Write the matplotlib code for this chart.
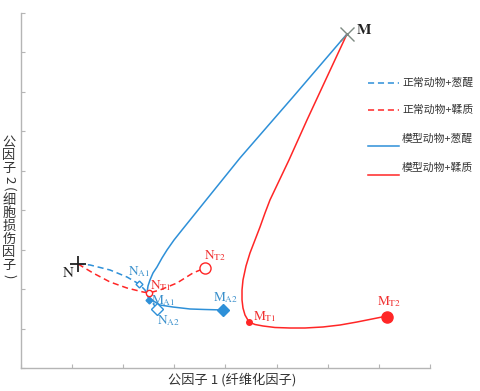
import matplotlib
matplotlib.use("Agg")
from matplotlib import pyplot as plt
from matplotlib.lines import Line2D

plt.rcParams["font.family"] = ["Noto Sans CJK SC", "DejaVu Sans"]
plt.rcParams["mathtext.fontset"] = "stix"

# ---- data (factor scores) ----
n_pt = (1.115, 2.637)
m_pt = (6.377, 8.469)

# normal animals + 葱醒
na_x = [1.115, 1.350, 1.741, 2.073, 2.308, 2.425, 2.504, 2.660]
na_y = [2.637, 2.612, 2.485, 2.307, 2.130, 1.978, 1.775, 1.496]
# normal animals + 鞣质
nt_x = [1.115, 1.408, 1.741, 2.073, 2.386, 2.504, 2.719, 3.051, 3.364, 3.599]
nt_y = [2.637, 2.409, 2.181, 2.028, 1.927, 1.902, 1.978, 2.155, 2.409, 2.535]
# model animals + 葱醒
ma_x = [6.377, 5.320, 4.284, 3.716, 3.149, 2.993, 2.856, 2.758, 2.660, 2.582, 2.523,
        2.484, 2.465, 2.484, 2.523, 2.621, 2.719, 2.973, 3.306, 3.599, 3.951]
ma_y = [8.469, 6.871, 5.325, 4.412, 3.499, 3.245, 2.992, 2.789, 2.561, 2.409, 2.231,
        2.079, 1.902, 1.800, 1.750, 1.674, 1.597, 1.546, 1.496, 1.483, 1.471]
# model animals + 鞣质
mt_x = [6.377, 5.985, 5.594, 5.242, 4.870, 4.773, 4.675, 4.577, 4.479, 4.401, 4.342,
        4.323, 4.323, 4.342, 4.381, 4.460, 4.577, 4.734, 4.968, 5.262, 5.555, 5.907,
        6.240, 6.572, 6.866, 7.159]
mt_y = [8.469, 7.378, 6.288, 5.274, 4.260, 3.930, 3.575, 3.245, 2.916, 2.586, 2.231,
        1.978, 1.724, 1.521, 1.344, 1.166, 1.103, 1.065, 1.027, 1.014, 1.014, 1.040,
        1.090, 1.166, 1.242, 1.318]

na1 = (2.308, 2.130)
na2 = (2.660, 1.496)
nt1 = (2.504, 1.902)
nt2 = (3.599, 2.535)
ma1 = (2.504, 1.724)
ma2 = (3.951, 1.471)
mt1 = (4.460, 1.166)
mt2 = (7.159, 1.293)

legend_labels = ["正常动物+葱醒", "正常动物+鞣质", "模型动物+葱醒", "模型动物+鞣质"]
xlabel = "公因子 1 (纤维化因子)"
ylabel_chars = list("公因子2(细胞损伤因子)")

BLUE = "#2E90D8"
RED = "#FF2626"
LBLUE = "#3A90CC"
LRED = "#F03030"

fig = plt.figure(figsize=(4.81, 3.91), dpi=100)
ax = fig.add_axes([21 / 481, 23 / 391, 409 / 481, 355 / 391])
ax.set_xlim(0, 8)
ax.set_ylim(0, 9)
ax.set_xticks(range(0, 9))
ax.set_yticks(range(0, 10))
ax.set_xticklabels([])
ax.set_yticklabels([])
for s in ["top", "right"]:
    ax.spines[s].set_visible(False)
for s in ["left", "bottom"]:
    ax.spines[s].set_color("#b5b5b5")
    ax.spines[s].set_linewidth(1.0)
ax.tick_params(direction="in", length=3, color="#b5b5b5", width=0.8)

dash = (0, (4, 2.5))
ax.plot(na_x, na_y, color=BLUE, lw=1.1, linestyle=dash)
ax.plot(nt_x, nt_y, color=RED, lw=1.1, linestyle=dash)
ax.plot(ma_x, ma_y, color=BLUE, lw=1.1, solid_joinstyle="round")
ax.plot(mt_x, mt_y, color=RED, lw=1.1, solid_joinstyle="round")

# markers
ax.plot(*n_pt, marker="+", ms=12, mew=1.3, color="#222222")
ax.plot(*m_pt, marker="x", ms=10, mew=1.0, color="#7d8a82")
ax.plot(*na1, marker="D", ms=3.5, mfc="white", mec=BLUE, mew=1.0)
ax.plot(*na2, marker="D", ms=6, mfc="white", mec=BLUE, mew=1.0)
ax.plot(*ma1, marker="D", ms=3.5, color=BLUE)
ax.plot(*ma2, marker="D", ms=6, color=BLUE)
ax.plot(*nt1, marker="o", ms=4.5, mfc="white", mec=RED, mew=1.0)
ax.plot(*nt2, marker="o", ms=8, mfc="white", mec=RED, mew=1.0)
ax.plot(*mt1, marker="o", ms=4, color=RED)
ax.plot(*mt2, marker="o", ms=8, color=RED)

lab_kw = dict(textcoords="offset pixels", ha="center", va="center", fontsize=9.5)
ax.annotate(r"$\mathrm{N}$", n_pt, xytext=(-10, -9), color="#222222", fontsize=11,
            textcoords="offset pixels", ha="center", va="center")
ax.annotate(r"$\mathbf{M}$", m_pt, xytext=(17, 4), color="#222222", fontsize=11,
            textcoords="offset pixels", ha="center", va="center")
ax.annotate(r"$\mathrm{N_{A1}}$", na1, xytext=(0, 12), color=LBLUE, **lab_kw)
ax.annotate(r"$\mathrm{N_{A2}}$", na2, xytext=(11, -12), color=LBLUE, **lab_kw)
ax.annotate(r"$\mathrm{M_{A1}}$", ma1, xytext=(14, -1), color=LBLUE, **lab_kw)
ax.annotate(r"$\mathrm{M_{A2}}$", ma2, xytext=(3, 12), color=LBLUE, **lab_kw)
ax.annotate(r"$\mathrm{N_{T1}}$", nt1, xytext=(12, 7), color=LRED, **lab_kw)
ax.annotate(r"$\mathrm{N_{T2}}$", nt2, xytext=(10, 12), color=LRED, **lab_kw)
ax.annotate(r"$\mathrm{M_{T1}}$", mt1, xytext=(16, 5), color=LRED, **lab_kw)
ax.annotate(r"$\mathrm{M_{T2}}$", mt2, xytext=(2, 15), color=LRED, **lab_kw)

# legend drawn by hand (solid entries have the line below the text)
W, H = 481.0, 391.0
leg_cols = [BLUE, RED, BLUE, RED]
leg_styles = [dash, dash, "-", "-"]
line_y = [83, 110, 146, 175]
text_y = [83, 110, 139, 168]
for lab, c, ls, ly, ty in zip(legend_labels, leg_cols, leg_styles, line_y, text_y):
    fig.add_artist(Line2D([368 / W, 399 / W], [1 - ly / H, 1 - ly / H], color=c,
                          lw=1.1, linestyle=ls))
    fig.text(402 / W, 1 - ty / H, lab, fontsize=7.8, color="#333333", va="center", ha="left")

fig.text(232 / W, 1 - 380 / H, xlabel, fontsize=9.5, color="#333333", ha="center", va="center")

# vertical y label: CJK upright, latin rotated
y0 = 136
step = {"2": 10, "(": 9, ")": 9}
yy = y0
for ch in ylabel_chars:
    rot = -90 if ch in "2()" else 0
    h = step.get(ch, 13)
    fig.text(9 / W, 1 - (yy + h / 2) / H, ch, fontsize=9.5, color="#333333",
             ha="center", va="center", rotation=rot)
    yy += h

fig.savefig("out.png", dpi=100)
